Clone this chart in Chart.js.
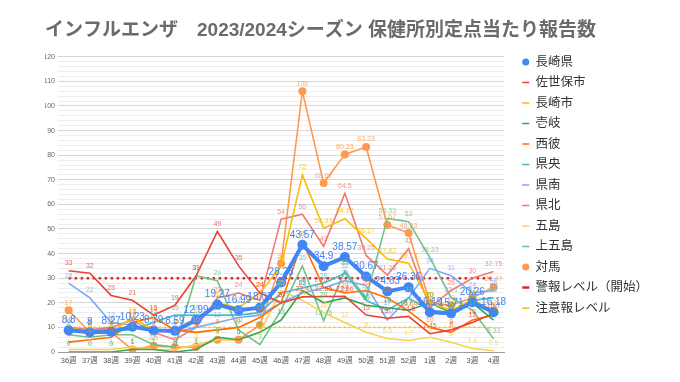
<!DOCTYPE html>
<html><head><meta charset="utf-8">
<script src="https://cdn.jsdelivr.net/npm/chart.js@4.4.1/dist/chart.umd.min.js"></script>
<style>html,body{margin:0;padding:0;background:#fff;}#wrap{width:680px;height:382px;position:relative;}</style>
</head><body><div id="wrap"><canvas id="c"></canvas></div>
<script>
const weeks = ['36週','37週','38週','39週','40週','41週','42週','43週','44週','45週','46週','47週','48週','49週','50週','51週','52週','1週','2週','3週','4週'];
const nagasakiKen = [8.8, 8, 8.27, 10.23, 8.79, 8.59, 12.99, 19.27, 16.99, 18.03, 28.28, 43.57, 34.9, 38.57, 30.67, 24.63, 26.36, 16.19, 15.71, 20.26, 16.18];
const sasebo = [33, 32, 23, 21, 15, 19, 31, 49, 35, 24, 20, 22.4, 22.55, 22.66, 15, 13.7, 14.5, 7.45, 9, 12, 15.7];
const nagasakiShi = [10, 8, 8, 14, 9, 9, 13, 20, 18, 24, 35, 72, 50.33, 54.17, 46.17, 37.82, 36.13, 20, 17, 21, 17];
const iki = [0, 0, 0, 1, 1, 0, 1, 6, 5, 8, 13, 25, 20, 22, 19, 18, 17, 20, 16, 20, 13];
const seihi = [4, 5, 6, 12, 14, 9, 8, 9, 10, 14, 20, 45, 26.17, 24, 25, 22, 16.64, 10, 8, 13, 15];
const kenou = [9, 9, 9, 9, 12, 15, 15, 15, 15, 16, 24, 26, 28, 32, 21, 17, 22, 17, 16, 21, 22];
const kennan = [28, 22, 12, 11, 9, 8, 10, 12, 14, 15, 20, 24, 26, 29, 27, 13, 22, 34, 31, 24, 25];
const kenpoku = [10, 9, 10, 13, 8, 5, 10, 22, 24, 21, 54, 56, 43, 64.5, 39.25, 31.25, 42, 18, 25, 30, 32.75];
const goto = [1, 1, 1, 2, 1, 1, 3, 5, 5, 8, 25, 21, 16, 12, 8, 5.5, 4.7, 6, 4, 1.4, 0.5];
const kamigoto = [7, 6, 7, 7, 3, 2, 31, 29, 9, 3, 17, 35, 12.76, 33, 22, 54.33, 53, 38.33, 22.1, 17, 5.33];
const tsushima = [17, 8, 8, 1, 2.5, 2, 2, 5, 5, 11, 36, 106, 68.67, 80.33, 83.33, 51.67, 48.33, 20, 19, 22, 26.47];
const alarmLevel = [30, 30, 30, 30, 30, 30, 30, 30, 30, 30, 30, 30, 30, 30, 30, 30, 30, 30, 30, 30, 30];
const cautionLevel = [10, 10, 10, 10, 10, 10, 10, 10, 10, 10, 10, 10, 10, 10, 10, 10, 10, 10, 10, 10, 10];

const FONT = '"Liberation Sans", "Noto Sans CJK JP", sans-serif';

function hexA(hex, a) {
  const n = parseInt(hex.slice(1), 16);
  return 'rgba(' + ((n >> 16) & 255) + ',' + ((n >> 8) & 255) + ',' + (n & 255) + ',' + a + ')';
}
function lineDs(label, data, color) {
  return { label, data, borderColor: color, backgroundColor: color, borderWidth: 1.6,
    pointRadius: 0, pointHoverRadius: 0, pointStyle: 'line', tension: 0, showValues: true, labelSize: 7 };
}

const datasets = [
  { label: '長崎県', data: nagasakiKen, borderColor: '#4285f4', backgroundColor: '#4285f4', borderWidth: 4,
    pointRadius: 5, pointStyle: 'circle', pointBorderWidth: 0, tension: 0, showValues: true, labelSize: 10 },
  lineDs('佐世保市', sasebo, '#ea4335'),
  lineDs('長崎市', nagasakiShi, '#fbbc04'),
  lineDs('壱岐', iki, '#34a853'),
  lineDs('西彼', seihi, '#ff6d01'),
  lineDs('県央', kenou, '#46bdc6'),
  lineDs('県南', kennan, '#7baaf7'),
  lineDs('県北', kenpoku, '#f07b72'),
  lineDs('五島', goto, '#fcd04f'),
  lineDs('上五島', kamigoto, '#71c287'),
  { label: '対馬', data: tsushima, borderColor: '#ff994d', backgroundColor: '#ff994d', borderWidth: 1.6,
    pointRadius: 4, pointStyle: 'circle', pointBorderWidth: 0, tension: 0, showValues: true, labelSize: 7 },
  { label: '警報レベル（開始）', data: alarmLevel, borderColor: '#e3242b', backgroundColor: '#e3242b', borderWidth: 2.5,
    borderDash: [2.5, 3.5], pointRadius: 0, pointStyle: 'line', tension: 0 },
  { label: '注意報レベル', data: cautionLevel, borderColor: '#f0c33c', backgroundColor: '#f0c33c', borderWidth: 1.8,
    borderDash: [2, 3], pointRadius: 0, pointStyle: 'line', tension: 0 }
];

const valueLabels = {
  id: 'valueLabels',
  afterDatasetsDraw(chart) {
    const ctx = chart.ctx;
    const order = [];
    chart.data.datasets.forEach((ds, i) => { if (ds.showValues) order.push(i); });
    order.reverse();
    order.forEach(i => {
      const ds = chart.data.datasets[i];
      const meta = chart.getDatasetMeta(i);
      ctx.save();
      ctx.font = ds.labelSize + 'px ' + FONT;
      ctx.fillStyle = i === 0 ? ds.borderColor : hexA(ds.borderColor, 0.8);
      ctx.textAlign = 'center';
      ctx.textBaseline = 'bottom';
      meta.data.forEach((pt, j) => {
        ctx.fillText(String(ds.data[j]), pt.x, pt.y - (i === 0 ? 5 : 4));
      });
      ctx.restore();
    });
  }
};

const legendShift = {
  id: 'legendShift',
  afterLayout(chart) {
    const lg = chart.legend;
    if (!lg) return;
    const w = lg.width;
    lg.left = chart.chartArea.right + 10;
    lg.right = lg.left + w;
    lg.top -= 9;
    lg.bottom -= 9;
  }
};

new Chart(document.getElementById('c'), {
  type: 'line',
  data: { labels: weeks, datasets },
  plugins: [valueLabels, legendShift],
  options: {
    responsive: true,
    maintainAspectRatio: false,
    animation: false,
    layout: { padding: { left: 45, right: 32, top: 0, bottom: 13 } },
    plugins: {
      title: {
        display: true,
        text: 'インフルエンザ　2023/2024シーズン 保健所別定点当たり報告数',
        align: 'start',
        color: '#6b6b6b',
        font: { family: FONT, size: 19, weight: 'bold' },
        padding: { top: 19.5, bottom: 14.5 }
      },
      legend: {
        position: 'right',
        align: 'start',
        fullSize: false,
        labels: {
          usePointStyle: true,
          boxWidth: 7,
          boxHeight: 5,
          padding: 8,
          color: '#333',
          font: { family: FONT, size: 12.5 }
        }
      },
      tooltip: { enabled: false }
    },
    scales: {
      x: {
        offset: true,
        grid: { display: false, drawTicks: false },
        border: { display: true, color: '#9e9e9e', width: 1 },
        ticks: { color: '#555', font: { family: FONT, size: 7.5 }, padding: 4, maxRotation: 0, autoSkip: false }
      },
      y: {
        min: 0, max: 120,
        afterFit(scale) { scale.width = 13; },
        border: { display: false },
        grid: {
          drawTicks: false,
          color: (c) => c.tick && c.tick.value === 0 ? '#9e9e9e' : (c.tick && c.tick.value % 10 === 0 ? '#d6d6d6' : '#eeeeee'),
          lineWidth: 1
        },
        ticks: {
          stepSize: 2,
          autoSkip: false,
          padding: 3,
          color: '#666',
          font: { family: FONT, size: 7 },
          callback: (v) => (v % 10 === 0 ? String(v) : '')
        }
      }
    }
  }
});
</script>
</body></html>
